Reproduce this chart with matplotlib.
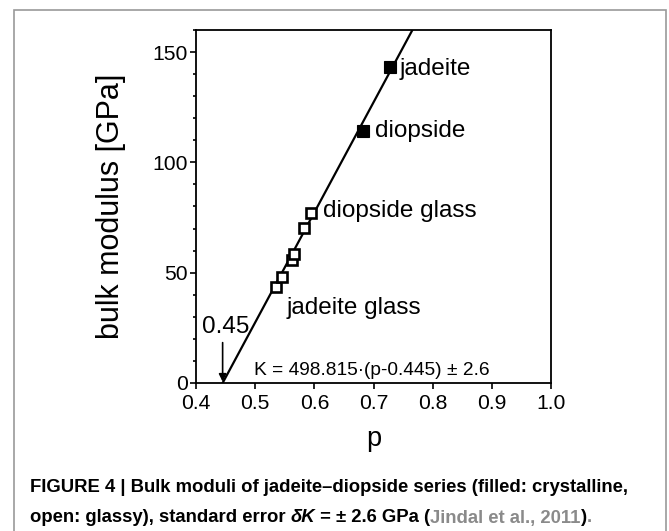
import matplotlib
matplotlib.use("Agg")
import matplotlib.pyplot as plt
import numpy as np
from matplotlib.patches import Rectangle
from matplotlib.ticker import MultipleLocator

plt.rcParams['font.family'] = ['Liberation Sans', 'DejaVu Sans']

# data
crystal_p = [0.728, 0.683]
crystal_K = [143.2, 114.1]
crystal_names = ["jadeite", "diopside"]
glass_p = [0.536, 0.546, 0.562, 0.566, 0.583, 0.595]
glass_K = [43.5, 47.9, 55.9, 58.6, 70.3, 77.1]
fit_slope = 498.815
fit_p0 = 0.445
xticks = [0.4, 0.5, 0.6, 0.7, 0.8, 0.9, 1.0]
xticklabels = ["0.4", "0.5", "0.6", "0.7", "0.8", "0.9", "1.0"]
yticks = [0, 50, 100, 150]

W, H = 669, 531
fig = plt.figure(figsize=(W/100, H/100), dpi=100)

# outer gray frame (open at the bottom)
fig.patches.append(Rectangle((14/W, -0.1), (666-14)/W, 1.1 - 10/H,
                             transform=fig.transFigure, fill=False,
                             edgecolor='#9a9a9a', linewidth=1.2))

ax = fig.add_axes([196/W, 1-383/H, (551-196)/W, (383-30)/H])
ax.set_xlim(0.4, 1.0)
ax.set_ylim(0, 160)

# fit line
pl = np.array([fit_p0, 1.0])
ax.plot(pl, fit_slope*(pl-fit_p0), color='black', lw=1.6, zorder=2)

ax.plot(crystal_p, crystal_K, 's', ms=8.2, color='black', mec='black', mew=0.8, zorder=3)
ax.plot(glass_p, glass_K, 's', ms=6.6, mfc='white', mec='black', mew=1.9, zorder=3)

ax.set_xticks(xticks)
ax.set_xticklabels(xticklabels)
ax.set_yticks(yticks)
ax.yaxis.set_minor_locator(MultipleLocator(10))
ax.tick_params(axis='both', which='major', direction='out', length=4, width=1.2,
               labelsize=15.2, pad=2)
ax.tick_params(axis='x', which='major', pad=4)
ax.tick_params(axis='y', which='minor', direction='out', length=2.5, width=1.2)
for s in ax.spines.values():
    s.set_linewidth(1.3)

ax.set_xlabel("p", fontsize=19.5)
ax.set_ylabel("bulk modulus [GPa]", fontsize=22)
ax.xaxis.set_label_coords(0.5, (383-426)/353, transform=ax.transAxes)
ax.yaxis.set_label_coords((126-196)/355, 0.5, transform=ax.transAxes)

# annotations
fs = 17.5
ax.text(0.7446, 142.3, crystal_names[0], fontsize=fs, va='center', ha='left')
ax.text(0.7024, 114.2, crystal_names[1], fontsize=fs, va='center', ha='left')
ax.text(0.6145, 77.9, "diopside glass", fontsize=fs, va='center', ha='left')
ax.text(0.553, 34.1, "jadeite glass", fontsize=fs, va='center', ha='left')
ax.text(0.410, 25.6, "0.45", fontsize=fs, va='center', ha='left', clip_on=False)
ax.annotate("", xy=(fit_p0, 0.6), xytext=(fit_p0, 18.3),
            arrowprops=dict(arrowstyle='-|>', color='black', lw=1.2,
                            mutation_scale=11, shrinkA=0, shrinkB=0))
ax.text(0.498, 5.6, "K = 498.815·(p-0.445) ± 2.6", fontsize=13.8, va='center', ha='left')

# caption
cfs = 13.3
fig.text(30/W, 1-488/H, "FIGURE 4 | Bulk moduli of jadeite\u2013diopside series (filled: crystalline,",
         va='center', ha='left', fontsize=cfs, fontweight='bold')
pieces = [
    ("open: glassy), standard error ", 'black', 'normal'),
    ("\u03b4K", 'black', 'italic'),
    (" = \u00b1 2.6 GPa (", 'black', 'normal'),
    ("Jindal et al., 2011", '#8a8a8a', 'normal'),
    (")", 'black', 'normal'),
    (".", '#8a8a8a', 'normal'),
]
prev = None
for txt, col, sty in pieces:
    if prev is None:
        prev = fig.text(30/W, 1-518/H, txt, va='center', ha='left', color=col,
                        fontstyle=sty, fontsize=cfs, fontweight='bold')
    else:
        prev = ax.annotate(txt, xycoords=prev, xy=(1, 0), va='bottom', ha='left',
                           color=col, fontstyle=sty, fontsize=cfs, fontweight='bold',
                           annotation_clip=False)

fig.savefig("out.png", dpi=100)
